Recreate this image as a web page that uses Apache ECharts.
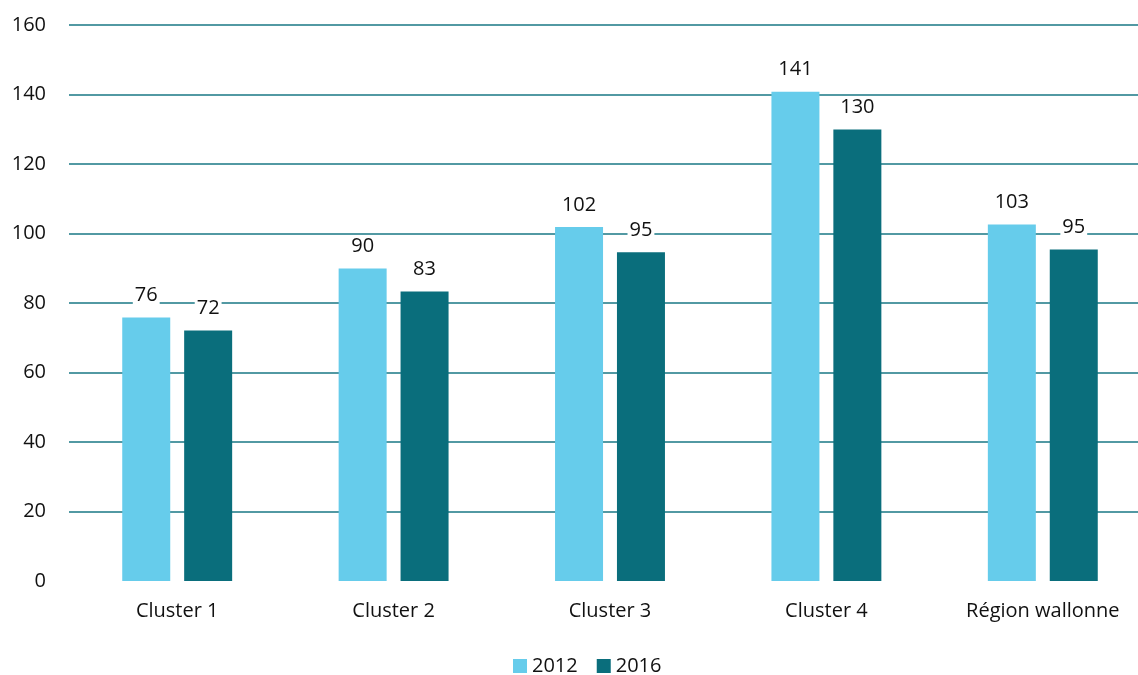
<!DOCTYPE html>
<html>
<head>
<meta charset="utf-8">
<script src="https://cdn.jsdelivr.net/npm/echarts@6/dist/echarts.min.js"></script>
<style>
  html, body { margin: 0; padding: 0; background: #fff; overflow: hidden; }
  #chart { width: 1151px; height: 675px; }
</style>
</head>
<body>
<div id="chart"></div>
<script>
// categories and values
var categories = ["Cluster 1", "Cluster 2", "Cluster 3", "Cluster 4", "Région wallonne"];
var values2012 = [75.8, 89.9, 101.9, 140.8, 102.6];
var values2016 = [72.1, 83.3, 94.6, 129.9, 95.4];
var seriesNames = ["2012", "2016"];

var FONT = "'Open Sans', 'Liberation Sans', sans-serif";
var gridColor = "#187784";

var labelStyle = {
  show: true,
  position: "top",
  distance: 12,
  color: "#111",
  fontSize: 20,
  fontFamily: FONT,
  backgroundColor: "#fff",
  padding: [0, 2],
  formatter: function (p) { return Math.round(p.value); }
};

// the plot runs a bit past the right edge of the picture, so the div is wider than the window
var myChart = echarts.init(document.getElementById("chart"));
var option = {
  animation: false,
  textStyle: { fontFamily: FONT },
  grid: { left: 69, right: 0, top: 25, bottom: 94, containLabel: false },
  legend: {
    data: seriesNames,
    bottom: -6,
    left: 508,
    itemWidth: 14,
    itemHeight: 14,
    itemGap: 19,
    icon: "rect",
    textStyle: { fontSize: 20, color: "#111", fontFamily: FONT }
  },
  xAxis: {
    type: "category",
    data: categories,
    axisLine: { show: false },
    axisTick: { show: false },
    axisLabel: { margin: 20, fontSize: 20, color: "#111", fontFamily: FONT }
  },
  yAxis: {
    type: "value",
    min: 0,
    max: 160,
    interval: 20,
    axisLine: { show: false },
    axisTick: { show: false },
    axisLabel: { margin: 23, fontSize: 20, color: "#111", fontFamily: FONT },
    splitLine: {
      lineStyle: { color: ["rgba(0,0,0,0)", gridColor, gridColor, gridColor, gridColor, gridColor, gridColor, gridColor, gridColor], width: 1.5 }
    }
  },
  series: [
    {
      name: seriesNames[0],
      type: "bar",
      data: values2012,
      barWidth: 48,
      barGap: "29%",
      itemStyle: { color: "#66CCEB" },
      label: labelStyle
    },
    {
      name: seriesNames[1],
      type: "bar",
      data: values2016,
      barWidth: 48,
      itemStyle: { color: "#0A6E7C" },
      label: labelStyle
    }
  ]
};
myChart.setOption(option);
</script>
</body>
</html>
